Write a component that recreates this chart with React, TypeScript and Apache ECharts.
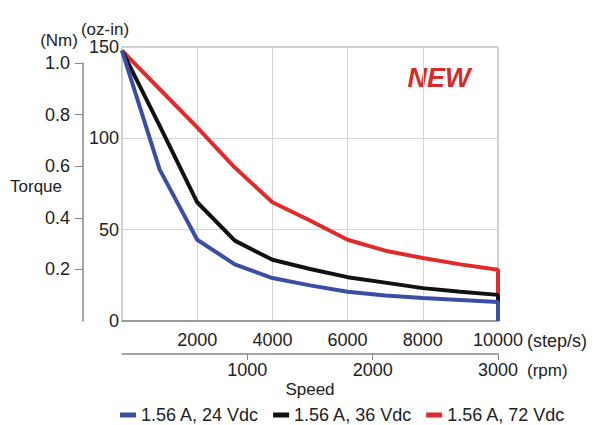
import React, { useEffect, useRef } from "react";
import * as echarts from "echarts";

// Speed in step/s (last point repeats 10000 for the drop to zero)
const speedSteps = [0, 1000, 2000, 3000, 4000, 5000, 6000, 7000, 8000, 9000, 10000, 10000];
// Torque in oz-in
const torque24 = [148, 83, 44.5, 31, 23.5, 19.5, 16, 14, 12.6, 11.5, 10.4, 0];
const torque36 = [148, 107, 65, 44, 33.5, 28.5, 24, 21, 18, 16, 14.3, 0];
const torque72 = [148, 127, 106, 84, 65, 55, 44.5, 38.5, 34.5, 31, 28, 0];

const seriesNames = ["1.56 A, 24 Vdc", "1.56 A, 36 Vdc", "1.56 A, 72 Vdc"];
const seriesColors = ["#3b4ea6", "#111111", "#e02b2b"];

const FONT = "'Liberation Sans', Arial, sans-serif";
const TXT = "#222";

function pairs(vals: number[]) {
  return vals.map((v, i) => [speedSteps[i], v]);
}

export default function App() {
  const ref = useRef<HTMLDivElement>(null);
  useEffect(() => {
    if (!ref.current) return;
    const chart = echarts.init(ref.current, undefined, { renderer: "svg" });
    const lineSeries = (idx: number, vals: number[], z: number) => ({
      name: seriesNames[idx],
      type: "line",
      xAxisIndex: 0,
      yAxisIndex: 0,
      data: pairs(vals),
      showSymbol: false,
      symbol: "none",
      clip: false,
      z,
      lineStyle: { color: seriesColors[idx], width: 4 },
      itemStyle: { color: seriesColors[idx] },
    });
    const text = (t: string, x: number, y: number, fontSize: number, align = "center", extra: any = {}) => ({
      type: "text",
      x,
      y,
      style: {
        text: t,
        fontSize,
        fontFamily: FONT,
        fill: TXT,
        align,
        verticalAlign: "middle",
        ...extra,
      },
    });
    const plain = (v: number) => String(v);
    chart.setOption({
      animation: false,
      backgroundColor: "#fff",
      textStyle: { fontFamily: FONT },
      grid: [
        { left: 122, top: 47, right: 97, bottom: 104, show: true, borderColor: "#999", borderWidth: 1 },
        { left: 83, top: 63, width: 1, bottom: 104 },
      ],
      xAxis: [
        {
          gridIndex: 0,
          type: "value",
          min: 0,
          max: 10000,
          interval: 2000,
          position: "bottom",
          axisLine: { show: true, lineStyle: { color: "#888", width: 1.5 } },
          axisTick: { show: false },
          axisLabel: { showMinLabel: false, fontSize: 18, color: TXT, margin: 10, fontFamily: FONT, formatter: plain },
          splitLine: { show: true, lineStyle: { color: "#d4d4d4", width: 1 } },
        },
        {
          gridIndex: 0,
          type: "value",
          min: 0,
          max: 3000,
          interval: 1000,
          position: "bottom",
          offset: 33,
          axisLine: { show: true, lineStyle: { color: "#888", width: 1.5 } },
          axisTick: { show: true, length: 6, lineStyle: { color: "#888" } },
          axisLabel: { showMinLabel: false, fontSize: 18, color: TXT, margin: 7, fontFamily: FONT, formatter: plain },
          splitLine: { show: false },
        },
        { gridIndex: 1, type: "value", show: false, min: 0, max: 1 },
      ],
      yAxis: [
        {
          gridIndex: 0,
          type: "value",
          min: 0,
          max: 150,
          interval: 50,
          position: "left",
          axisLine: { show: false },
          axisTick: { show: false },
          axisLabel: { fontSize: 18, color: TXT, margin: 3, fontFamily: FONT, formatter: plain },
          splitLine: { show: true, lineStyle: { color: "#d4d4d4", width: 1 } },
        },
        {
          gridIndex: 1,
          type: "value",
          min: 0,
          max: 1.0,
          interval: 0.2,
          position: "left",
          axisLine: { show: true, lineStyle: { color: "#888", width: 1.5 } },
          axisTick: { show: true, length: 8, lineStyle: { color: "#888" } },
          axisLabel: {
            showMinLabel: false,
            fontSize: 18,
            color: TXT,
            margin: 13,
            fontFamily: FONT,
            formatter: (v: number) => v.toFixed(1),
          },
          splitLine: { show: false },
        },
      ],
      legend: {
        data: seriesNames,
        left: 120,
        top: 406,
        padding: 0,
        icon: "rect",
        itemWidth: 16,
        itemHeight: 5,
        itemGap: 14,
        textStyle: { fontSize: 18, color: TXT, fontFamily: FONT },
      },
      graphic: [
        text("(Nm)", 59, 40, 17),
        text("(oz-in)", 105, 29, 17),
        text("Torque", 36, 186, 17),
        text("(step/s)", 527, 341, 18, "left"),
        text("(rpm)", 527, 370, 17, "left"),
        text("Speed", 310, 389, 17),
        text("NEW", 439, 78, 27, "center", { fill: "#d42a2a", fontWeight: "bold", fontStyle: "italic" }),
      ],
      series: [
        lineSeries(2, torque72, 2),
        lineSeries(1, torque36, 3),
        lineSeries(0, torque24, 4),
      ],
    });
    return () => chart.dispose();
  }, []);
  return <div ref={ref} style={{ position: "fixed", left: 0, top: 0, width: 595, height: 425 }} />;
}
